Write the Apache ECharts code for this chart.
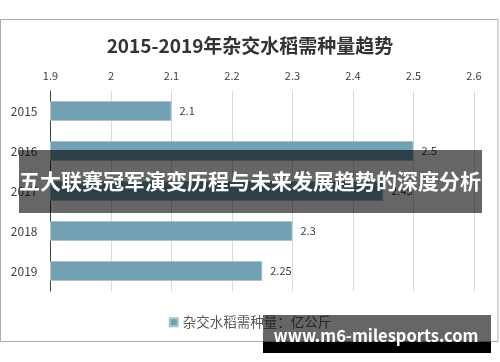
<!DOCTYPE html>
<html>
<head>
<meta charset="utf-8">
<script src="https://cdn.jsdelivr.net/npm/echarts@6/dist/echarts.min.js"></script>
<style>
html,body{margin:0;padding:0;background:#fff;}
#c{width:500px;height:362px;}
</style>
</head>
<body>
<div id="c"></div>
<script>
const categories = ['2015', '2016', '2017', '2018', '2019'];
const values = [2.1, 2.5, 2.45, 2.3, 2.25];
const seriesName = '杂交水稻需种量：亿公斤';
const titleText = '2015-2019年杂交水稻需种量趋势';
const bannerText = '五大联赛冠军演变历程与未来发展趋势的深度分析';
const watermarkText = 'www.m6-milesports.com';

const FONT = '"Noto Sans CJK SC", "Noto Sans", sans-serif';
const chart = echarts.init(document.getElementById('c'));
chart.setOption({
  animation: false,
  backgroundColor: '#fff',
  textStyle: { fontFamily: FONT },
  title: {
    text: titleText,
    left: 'center',
    top: 31,
    textStyle: { fontSize: 19, fontWeight: 'bold', color: '#333', fontFamily: FONT }
  },
  legend: {
    bottom: 28,
    left: 'center',
    itemWidth: 8,
    itemHeight: 8,
    itemGap: 4,
    icon: 'rect',
    textStyle: { fontSize: 13.5, color: '#595959', fontFamily: FONT },
    data: [seriesName]
  },
  grid: { left: 50.5, right: 26, top: 91, bottom: 71, containLabel: false },
  xAxis: {
    type: 'value',
    position: 'top',
    min: 1.9,
    max: 2.6,
    interval: 0.1,
    axisLine: { show: false },
    axisTick: { show: false },
    axisLabel: {
      fontSize: 11, color: '#404040', margin: 10,
      formatter: v => String(Math.round(v * 10) / 10)
    },
    splitLine: { show: true, lineStyle: { color: '#d9d9d9', width: 1 } }
  },
  yAxis: {
    type: 'category',
    inverse: true,
    data: categories,
    axisLine: { show: true, lineStyle: { color: '#404040', width: 1 } },
    axisTick: { show: false },
    axisLabel: { fontSize: 12, color: '#404040', margin: 13 }
  },
  series: [{
    name: seriesName,
    type: 'bar',
    data: values,
    barWidth: 20,
    itemStyle: { color: '#72a1b4', borderColor: '#a7c4cf', borderWidth: 1 },
    label: { show: true, position: 'right', distance: 8, fontSize: 11, color: '#404040' }
  }],
  graphic: [
    { type: 'rect', shape: { x: 0.5, y: 19.5, width: 497.5, height: 322 }, style: { fill: 'none', stroke: '#aaaaaa', lineWidth: 1 }, z: 1 },
    { type: 'rect', shape: { x: 19, y: 150, width: 463, height: 63 }, style: { fill: 'rgba(0,0,0,0.6)' }, z: 100 },
    { type: 'text', x: 250, y: 181, style: { text: bannerText, fill: '#fff', font: 'bold 21px ' + FONT, textAlign: 'center', textVerticalAlign: 'middle' }, z: 101 },
    { type: 'rect', shape: { x: 263, y: 315, width: 228, height: 27 }, style: { fill: 'rgba(0,0,0,0.6)' }, z: 100 },
    { type: 'rect', shape: { x: 263, y: 342, width: 228, height: 11 }, style: { fill: '#000' }, z: 100 },
    { type: 'text', x: 376, y: 336, style: { text: watermarkText, fill: '#fff', font: 'bold 16.5px ' + FONT, textAlign: 'center', textVerticalAlign: 'middle' }, z: 101 }
  ]
});
</script>
</body>
</html>
